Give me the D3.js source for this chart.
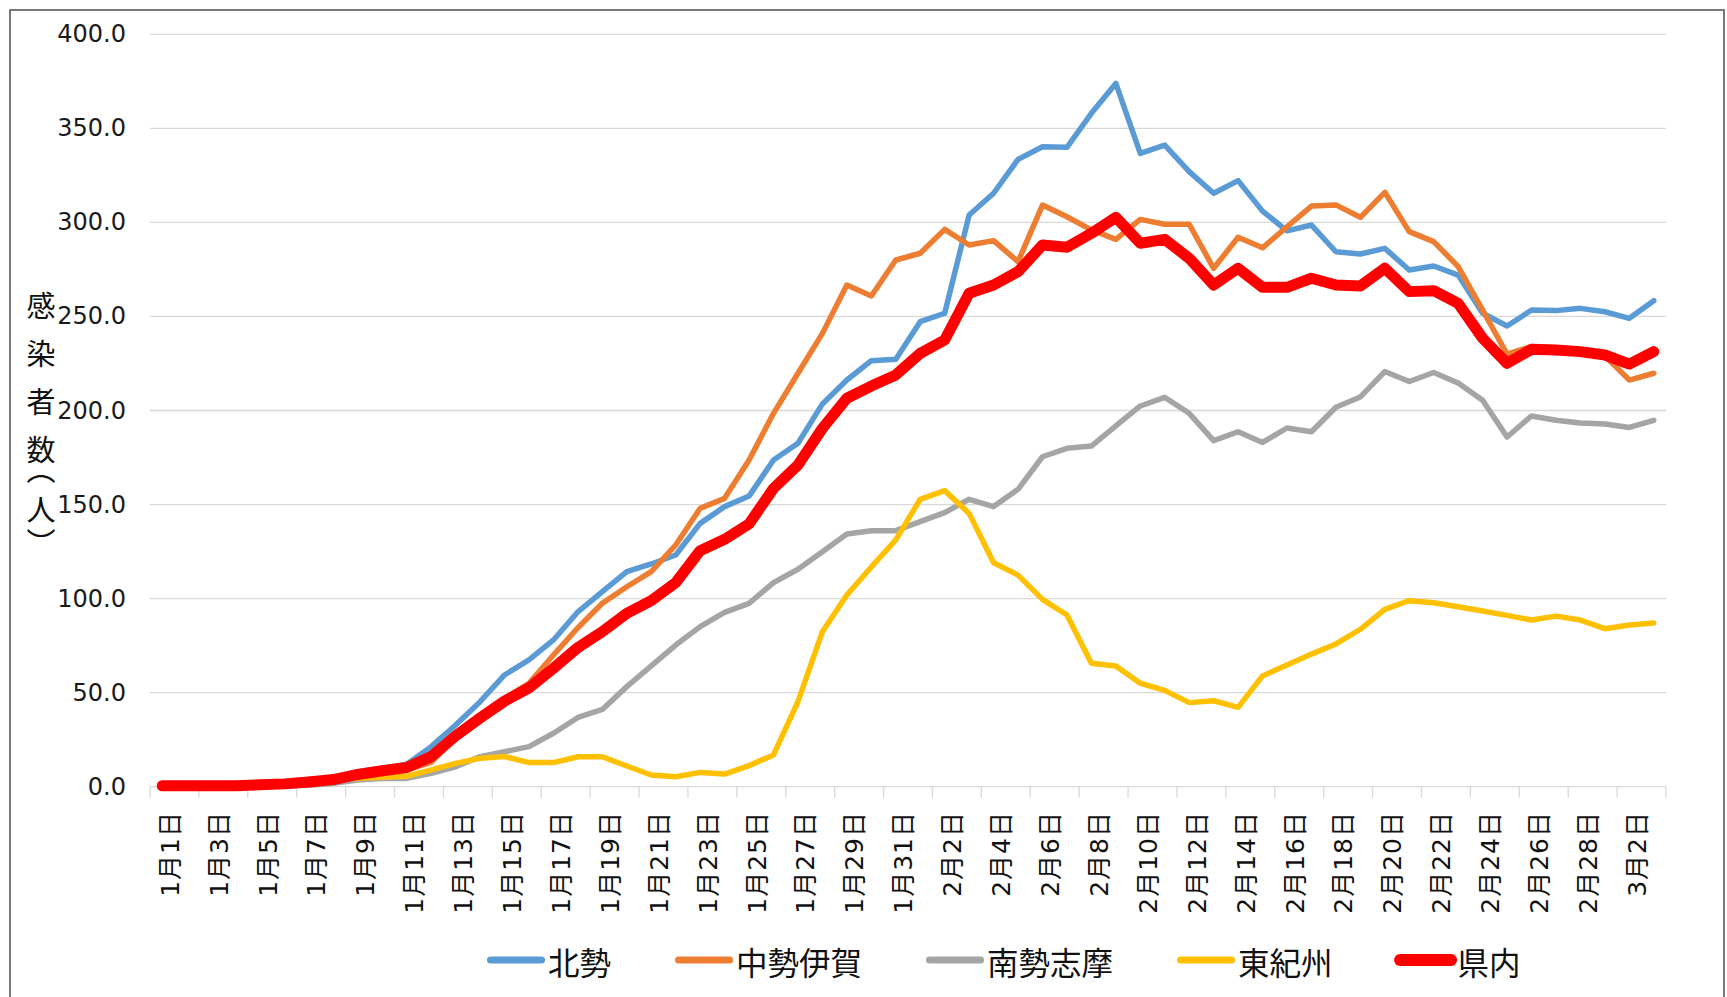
<!DOCTYPE html>
<html><head><meta charset="utf-8">
<script src="https://cdn.jsdelivr.net/npm/d3@7"></script>
<style>html,body{margin:0;padding:0;background:#fff;} svg{display:block}</style>
</head><body>
<svg id="c" width="1727" height="997"></svg>
<script>
const dates = ["1月1日","1月2日","1月3日","1月4日","1月5日","1月6日","1月7日","1月8日","1月9日","1月10日",
"1月11日","1月12日","1月13日","1月14日","1月15日","1月16日","1月17日","1月18日","1月19日","1月20日",
"1月21日","1月22日","1月23日","1月24日","1月25日","1月26日","1月27日","1月28日","1月29日","1月30日",
"1月31日","2月1日","2月2日","2月3日","2月4日","2月5日","2月6日","2月7日","2月8日","2月9日",
"2月10日","2月11日","2月12日","2月13日","2月14日","2月15日","2月16日","2月17日","2月18日","2月19日",
"2月20日","2月21日","2月22日","2月23日","2月24日","2月25日","2月26日","2月27日","2月28日","3月1日",
"3月2日","3月3日"];

const hokusei = [0.5,0.5,0.5,0.5,1.0,1.5,3.0,4.5,8.0,9.8,
11.9,21.3,32.8,45.2,59.4,67.4,78.0,93.0,103.7,114.3,
118.4,123.2,140.0,148.9,154.5,173.7,182.6,203.5,216.2,226.5,
227.2,247.2,251.7,303.9,315.5,333.5,340.2,339.9,358.0,373.9,
336.7,341.1,327.0,315.5,322.2,306.0,295.5,298.6,284.4,283.2,
286.2,274.7,276.8,272.0,251.7,244.9,253.4,253.1,254.3,252.5,
249.0,258.4];

const chuseiIga = [0.5,0.5,0.5,0.5,1.2,2.5,4.0,4.5,6.0,7.5,
9.0,13.0,26.0,37.0,47.0,55.0,70.0,84.5,97.5,106.3,
114.3,128.5,148.0,153.3,173.7,198.5,219.8,241.0,266.7,260.9,
280.0,283.6,296.3,288.0,290.3,279.1,309.2,303.0,296.0,291.0,
301.6,299.0,299.0,275.6,292.1,286.5,297.7,308.7,309.3,302.7,
316.0,295.1,289.8,276.5,253.4,230.0,234.0,233.0,232.0,229.0,
216.2,219.8];

const nanseiShima = [0.3,0.3,0.3,0.3,0.3,0.5,0.8,1.8,3.6,4.4,
4.4,7.1,10.6,16.0,18.6,21.3,28.4,36.8,41.1,53.2,
64.2,75.3,85.1,92.7,97.5,108.5,115.6,124.9,134.3,136.1,
136.1,140.9,145.7,152.8,148.9,158.1,175.4,179.9,181.1,191.8,
202.4,207.0,198.5,184.0,188.7,183.0,190.7,188.7,201.7,207.2,
220.7,215.4,220.2,214.6,205.4,185.9,197.1,194.8,193.4,192.8,
191.0,194.8];

const higashiKishu = [0.5,0.5,0.5,0.5,0.5,1.5,3.0,4.0,4.5,5.0,
5.5,8.9,12.4,15.1,16.0,12.8,12.8,15.9,15.9,11.0,
6.2,5.3,7.6,6.7,11.2,16.9,45.2,82.4,101.9,116.8,
131.2,152.8,157.4,145.3,119.1,112.5,99.6,91.3,65.6,64.2,
55.0,51.2,44.7,45.7,42.2,58.9,64.7,70.5,75.9,83.7,
94.3,98.9,97.8,95.7,93.4,91.1,88.6,90.7,88.6,84.0,
86.0,87.0];

const kennai = [0.5,0.5,0.5,0.5,1.0,1.5,2.5,3.8,6.5,8.5,
10.2,16.0,27.0,36.5,45.5,52.5,63.0,74.0,82.4,92.2,
98.9,108.5,125.5,131.5,139.7,158.6,171.0,190.5,206.5,213.0,
218.9,230.4,237.5,262.3,266.7,273.8,288.0,286.8,294.2,302.7,
288.9,291.0,280.9,266.7,275.6,265.5,265.5,270.3,266.7,266.2,
275.6,263.2,263.7,257.0,238.4,225.1,232.5,232.2,231.3,229.5,
224.7,231.3];

const yTicks = [0,50,100,150,200,250,300,350,400];
const seriesNames = ["北勢","中勢伊賀","南勢志摩","東紀州","県内"];
const seriesValues = [hokusei, chuseiIga, nanseiShima, higashiKishu, kennai];
const seriesColors = ["#5B9BD5","#ED7D31","#A5A5A5","#FFC000","#FF0000"];
const yTitleChars = ["感","染","者","数","（","人","）"];

const svg = d3.select("#c");
const W = 1727, H = 997;
const L = 150, R = 1666, T = 34.3, B = 786.7;

svg.append("rect").attr("width", W).attr("height", H).attr("fill", "#fff");
svg.append("rect").attr("x", 10).attr("y", 10).attr("width", 1714).attr("height", 1000)
  .attr("fill", "none").attr("stroke", "#595959").attr("stroke-width", 1.6);

const x = d3.scalePoint().domain(dates).range([L, R]).padding(0.5);
const y = d3.scaleLinear().domain([0, 400]).range([B, T]);
const step = x.step();

// gridlines
svg.append("g").selectAll("line").data(yTicks).join("line")
  .attr("x1", L).attr("x2", R)
  .attr("y1", d => y(d)).attr("y2", d => y(d))
  .attr("stroke", "#d9d9d9").attr("stroke-width", 1.3);

// y labels
svg.append("g").selectAll("text").data(yTicks).join("text")
  .attr("x", 126).attr("y", d => y(d))
  .attr("text-anchor", "end").attr("dominant-baseline", "central")
  .attr("font-family", "'DejaVu Sans', sans-serif").attr("font-size", 24)
  .attr("fill", "#1a1a1a")
  .text(d => d3.format(".1f")(d));

// x ticks
const tickDates = dates.filter((d, i) => i % 2 === 0);
const tickXs = tickDates.map(d => x(d) - step / 2).concat([R]);
svg.append("g").selectAll("line").data(tickXs).join("line")
  .attr("x1", d => d).attr("x2", d => d)
  .attr("y1", B).attr("y2", B + 11)
  .attr("stroke", "#d9d9d9").attr("stroke-width", 1.3);

// x labels
svg.append("g").selectAll("text").data(tickDates).join("text")
  .attr("transform", d => `translate(${x(d) + 8},811) rotate(-90)`)
  .attr("text-anchor", "end").attr("dominant-baseline", "central")
  .attr("font-family", "'DejaVu Sans','Noto Sans CJK JP', sans-serif").attr("font-size", 25)
  .attr("letter-spacing", 1)
  .attr("fill", "#111")
  .text(d => d);

// lines
const line = d3.line().x((d, i) => x(dates[i])).y(d => y(d));
seriesValues.forEach((vals, k) => {
  svg.append("path").datum(vals)
    .attr("d", line)
    .attr("fill", "none")
    .attr("stroke", seriesColors[k])
    .attr("stroke-width", k === 4 ? 11 : 5.5)
    .attr("stroke-linejoin", "round").attr("stroke-linecap", "round");
});

// y-axis title (vertical, one glyph per element)
const titleYs = [306, 354, 402, 450, 470, 510, 543];
const tg = svg.append("g");
yTitleChars.forEach((c, i) => {
  tg.append("text")
    .attr("x", 41).attr("y", titleYs[i])
    .attr("writing-mode", "vertical-rl")
    .attr("text-anchor", "middle")
    .attr("font-family", "'Noto Sans CJK JP', sans-serif").attr("font-size", 29)
    .attr("fill", "#111")
    .text(c);
});

// legend
const lg = svg.append("g");
let lx = 487;
const ly = 960;
seriesNames.forEach((n, k) => {
  lg.append("line").attr("x1", lx + 3.5).attr("x2", lx + 54.5).attr("y1", ly).attr("y2", ly)
    .attr("stroke", seriesColors[k]).attr("stroke-width", k === 4 ? 12 : 7)
    .attr("stroke-linecap", "round");
  const t = lg.append("text").attr("x", lx + 61).attr("y", ly + 1)
    .attr("dominant-baseline", "central")
    .attr("font-family", "'Noto Sans CJK JP', sans-serif").attr("font-size", 31.5)
    .attr("fill", "#111").text(n);
  lx = lx + 61 + t.node().getComputedTextLength() + 64;
});
</script>
</body></html>
